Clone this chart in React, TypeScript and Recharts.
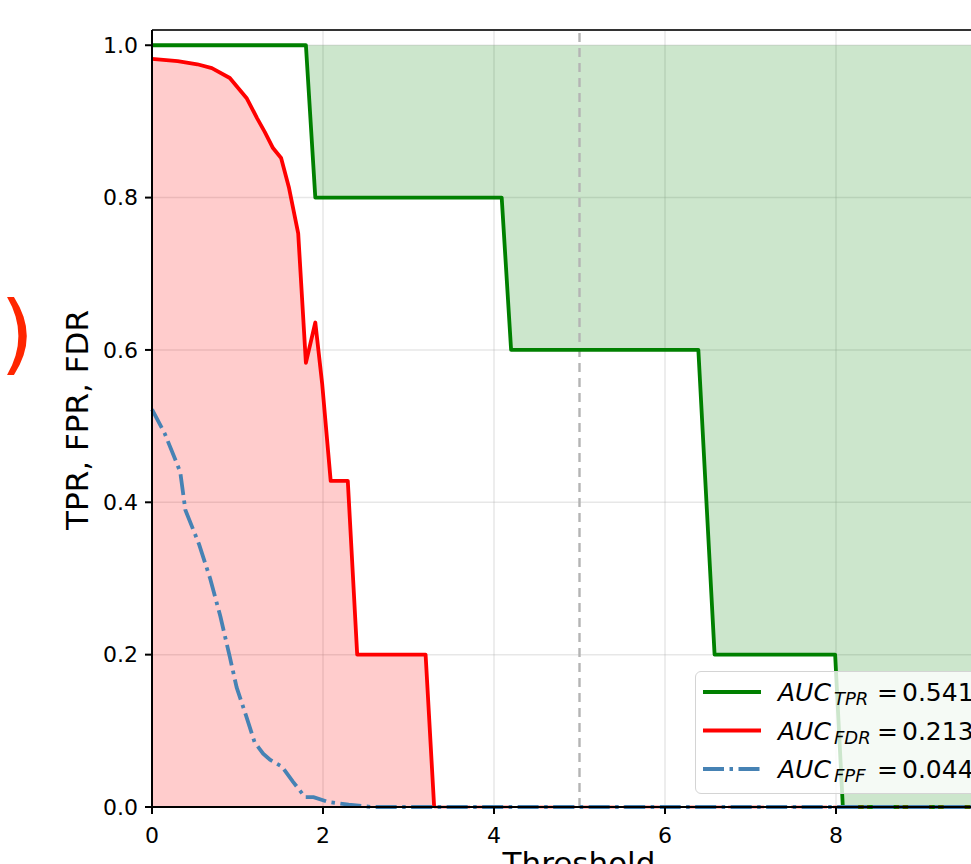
import React from 'react';
import {
  Area, CartesianGrid, ComposedChart, Legend, Line, ReferenceLine, XAxis, YAxis,
} from 'recharts';

// ── Data ───────────────────────────────────────────────────────────────────────

const TPR_X = [0, 1.8, 1.91, 4.09, 4.2, 6.39, 6.58, 7.99, 8.08, 10];
const TPR_Y = [1, 1, 0.8, 0.8, 0.6, 0.6, 0.2, 0.2, 0, 0];

const FDR_X = [0, 0.3, 0.53, 0.7, 0.91, 1.11, 1.23, 1.32, 1.415, 1.51, 1.6, 1.71, 1.8, 1.91, 1.99, 2.09, 2.29, 2.4, 3.2, 3.3];
const FDR_Y = [0.982, 0.979, 0.975, 0.97, 0.957, 0.93, 0.904, 0.886, 0.865, 0.852, 0.814, 0.753, 0.583, 0.636, 0.556, 0.428, 0.428, 0.2, 0.2, 0];

const FPR_X = [0, 0.15, 0.33, 0.39, 0.55, 0.68, 0.8, 0.91, 0.99, 1.1, 1.2, 1.3, 1.38, 1.52, 1.65, 1.79, 1.89, 2.05, 2.3, 2.57, 10];
const FPR_Y = [0.522, 0.49, 0.44, 0.39, 0.345, 0.3, 0.25, 0.197, 0.157, 0.12, 0.085, 0.07, 0.062, 0.053, 0.033, 0.013, 0.013, 0.007, 0.003, 0, 0];

const X_TICKS = [0, 2, 4, 6, 8, 10];
const Y_TICKS = [0, 0.2, 0.4, 0.6, 0.8, 1.0];

const LEGEND_NAMES  = ['TPR', 'FDR', 'FPF'];
const LEGEND_VALUES = ['0.541', '0.213', '0.044'];

// ── Styling ────────────────────────────────────────────────────────────────────

const FONT    = '"DejaVu Sans", "Liberation Sans", sans-serif';
const GREEN   = '#008000';
const RED     = '#ff0000';
const BLUE    = '#4682b4';
const LW      = 3.8;
const DASHDOT = '21 5.5 3.5 5.5';

const LEGEND_COLORS = [GREEN, RED, BLUE];
const LEGEND_DASHES = [undefined, undefined, DASHDOT];

// merge the three series on one threshold table
function pick(xs: number[], ys: number[], x: number) {
  const i = xs.indexOf(x);
  return i >= 0 ? ys[i] : null;
}
const allX = Array.from(new Set([...TPR_X, ...FDR_X, ...FPR_X])).sort((a, b) => a - b);
const rows = allX.map(x => ({
  x,
  tpr: pick(TPR_X, TPR_Y, x),
  fdr: pick(FDR_X, FDR_Y, x),
  fpr: pick(FPR_X, FPR_Y, x),
}));

// ── Pieces ─────────────────────────────────────────────────────────────────────

const YTitle = () => (
  <text x={88} y={420} transform="rotate(-90 88 420)" textAnchor="middle"
        fontSize={31} fontFamily={FONT} fill="#000">
    TPR, FPR, FDR
  </text>
);

const XTitle = () => (
  <text x={579} y={874} textAnchor="middle" fontSize={31} fontFamily={FONT} fill="#000">
    Threshold
  </text>
);

function LegendBox() {
  return (
    <div style={{
      width: 330, height: 123, boxSizing: 'border-box',
      border: '1.5px solid #d4d4d4', borderRadius: 6,
      background: 'rgba(255,255,255,0.8)',
    }}>
      <svg width={328} height={120} style={{ display: 'block' }}>
        {LEGEND_NAMES.map((name, i) => {
          const cy = 20 + i * 38.5;
          return (
            <g key={name}>
              <line x1={7} x2={65} y1={cy} y2={cy} stroke={LEGEND_COLORS[i]}
                    strokeWidth={LW} strokeDasharray={LEGEND_DASHES[i]} />
              <text y={cy + 9} fontFamily={FONT} fontSize={25} fill="#000">
                <tspan x={82} fontStyle="italic">AUC</tspan>
                <tspan x={138} fontStyle="italic" fontSize={18} dy={4}>{name}</tspan>
                <tspan x={181} dy={-4}>=</tspan>
                <tspan x={206}>{LEGEND_VALUES[i]}</tspan>
              </text>
            </g>
          );
        })}
      </svg>
    </div>
  );
}

// ── Main ───────────────────────────────────────────────────────────────────────

export default function App() {
  const tick = { fontSize: 22, fill: '#000', fontFamily: FONT };
  const axisStroke = { stroke: '#000', strokeWidth: 2 };

  return (
    <div style={{ position: 'absolute', left: 0, top: 0, width: 971, height: 864, overflow: 'hidden', background: '#fff' }}>
      <ComposedChart width={1040} height={900} data={rows}
                     margin={{ top: 30, right: 33, bottom: 0, left: 0 }}>
        <CartesianGrid stroke="#b0b0b0" strokeOpacity={0.3} strokeWidth={1.5} />
        <XAxis dataKey="x" type="number" domain={[0, 10]} ticks={X_TICKS}
               tick={tick} tickSize={7} tickMargin={13} height={93}
               axisLine={axisStroke} tickLine={axisStroke}
               label={<XTitle />} />
        <YAxis type="number" domain={[0, 1.02]} ticks={Y_TICKS} width={152}
               tickFormatter={(v: number) => v.toFixed(1)}
               tick={tick} tickSize={7} tickMargin={7}
               axisLine={axisStroke} tickLine={axisStroke}
               label={<YTitle />} />

        {/* shaded regions */}
        <Area dataKey="tpr" baseValue={1} connectNulls stroke="none"
              fill={GREEN} fillOpacity={0.2} isAnimationActive={false} activeDot={false} />
        <Area dataKey="fdr" baseValue={0} connectNulls stroke="none"
              fill={RED} fillOpacity={0.2} isAnimationActive={false} activeDot={false} />

        <ReferenceLine x={5} stroke="#b4b4b4" strokeWidth={2.4} strokeDasharray="9 6" />
        <ReferenceLine y={1.02} stroke="#333" strokeWidth={2} />

        <Line dataKey="tpr" connectNulls stroke={GREEN} strokeWidth={LW} dot={false}
              activeDot={false} isAnimationActive={false} strokeLinejoin="round" />
        <Line dataKey="fdr" connectNulls stroke={RED} strokeWidth={LW} dot={false}
              activeDot={false} isAnimationActive={false} strokeLinejoin="round" />
        <ReferenceLine segment={[{ x: 3.3, y: 0 }, { x: 10, y: 0 }]}
                       stroke={RED} strokeWidth={2.4} strokeDasharray="15 6" />
        <Line dataKey="fpr" connectNulls stroke={BLUE} strokeWidth={LW} dot={false}
              strokeDasharray={DASHDOT} activeDot={false} isAnimationActive={false} />

        <Legend layout="vertical" align="center" verticalAlign="middle"
                wrapperStyle={{ left: 695, top: 671, width: 330 }}
                content={<LegendBox />} />
      </ComposedChart>

      <svg width={60} height={864} style={{ position: 'absolute', left: 0, top: 0 }}>
        <text x={0} y={363} fontSize={88} fontFamily={FONT} fill="#ff2600">)</text>
      </svg>
    </div>
  );
}
